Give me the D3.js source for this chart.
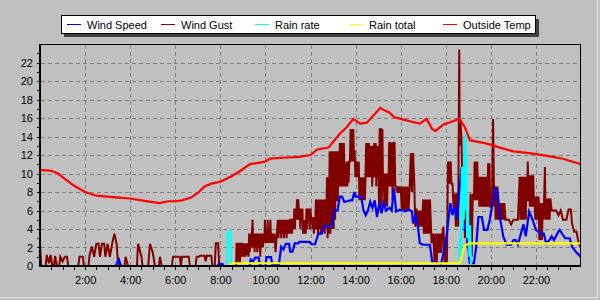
<!DOCTYPE html>
<html>
<head>
<meta charset="utf-8">
<script src="https://cdn.jsdelivr.net/npm/d3@7"></script>
<style>
body { margin: 0; background: #c0c0c0; }
svg text { font-family: "Liberation Sans", Arial, sans-serif; }
</style>
</head>
<body>
<svg id="chart" width="600" height="300"></svg>
<script>
width = 600;
height = 300;

// series names and colours for the legend
seriesNames = ['Wind Speed', 'Wind Gust', 'Rain rate', 'Rain total', 'Outside Temp'];
seriesColors = ['#0000ff', '#800000', '#00ffff', '#ffff00', '#ff0000'];

xTicks = [2, 4, 6, 8, 10, 12, 14, 16, 18, 20, 22];
yTicks = [0, 2, 4, 6, 8, 10, 12, 14, 16, 18, 20, 22];

// [hour, value]
windGust = [[0,2.4],[0.05,0],[0.25,0],[0.3,1.2],[0.4,0.3],[0.47,1.2],[0.55,0],[0.62,0],[0.67,1.1],[0.75,0],
	[0.85,0],[0.9,1.0],[1.0,0.5],[1.1,1.0],[1.2,1.0],[1.25,0],[1.7,0],[1.75,1.0],[1.9,1.0],[1.95,0],
	[2.15,0],[2.2,1.2],[2.3,2.1],[2.4,1.0],[2.5,2.4],[2.6,2.4],[2.66,1.0],[2.75,2.4],[2.85,2.4],[2.9,1.0],
	[3.0,2.4],[3.1,1.0],[3.2,2.4],[3.3,3.5],[3.4,2.4],[3.46,0.3],[3.55,0],[3.75,0],[3.8,1.0],[3.9,0],
	[4.3,0],[4.35,2.4],[4.5,1.0],[4.55,0],[4.8,0],[4.88,2.4],[5.0,1.5],[5.1,0],[5.28,0],[5.32,1.0],
	[5.4,0],[5.85,0],[5.9,1.0],[6.2,1.0],[6.25,0],[6.3,1.0],[6.6,1.0],[6.65,0],[6.9,0],[6.95,1.0],
	[7.05,1.0],[7.1,1.1],[7.3,1.1],[7.35,0.5],[7.4,1.1],[7.6,1.1],[7.65,0],[7.75,0],[7.8,2.45],[7.9,2.45],
	[7.95,0],[8.7,0],[8.72,2.5],[8.75,0.3],[8.78,2.5],[8.81,0.5],[8.84,2.5],[8.87,0.3],[8.9,2.5],[8.93,1.0],
	[8.95,2.5],[9.0,1.0],[9.03,2.45],[9.06,1.0],[9.09,2.45],[9.12,1.0],[9.15,2.45],[9.18,1.2],[9.21,2.45],[9.25,1.0],
	[9.28,3.5],[9.31,1.5],[9.34,3.5],[9.37,2.0],[9.4,3.5],[9.43,5.0],[9.46,2.0],[9.49,3.5],[9.52,1.5],[9.55,3.5],
	[9.58,2.0],[9.61,3.5],[9.64,1.5],[9.67,3.5],[9.7,2.0],[9.73,3.5],[9.77,1.0],[9.8,3.5],[9.83,2.0],[9.86,3.5],
	[9.89,2.0],[9.92,3.5],[9.95,2.5],[9.98,5.0],[10.01,2.5],[10.04,3.5],[10.07,2.5],[10.1,5.0],[10.13,2.5],[10.16,3.5],
	[10.19,2.5],[10.22,5.0],[10.25,2.5],[10.28,3.5],[10.31,2.5],[10.34,3.5],[10.37,2.5],[10.4,3.5],[10.45,1.5],[10.55,5.0],
	[10.58,3.0],[10.61,5.0],[10.64,3.5],[10.67,5.0],[10.7,3.0],[10.73,5.0],[10.76,3.5],[10.79,5.0],[10.82,3.0],[10.85,5.0],
	[10.88,3.5],[10.91,5.0],[10.94,3.0],[10.97,5.0],[11.0,3.5],[11.03,5.0],[11.06,3.5],[11.09,5.1],[11.12,3.5],[11.15,5.1],
	[11.18,3.5],[11.21,5.1],[11.25,4.0],[11.28,6.2],[11.31,4.0],[11.34,6.2],[11.37,5.0],[11.4,7.2],[11.43,5.0],[11.46,7.2],
	[11.49,5.0],[11.52,6.2],[11.55,4.0],[11.58,6.2],[11.61,5.0],[11.64,6.2],[11.67,3.5],[11.7,5.0],[11.73,3.5],[11.76,5.0],
	[11.79,3.5],[11.82,6.2],[11.85,4.0],[11.88,6.2],[11.91,5.0],[11.94,6.2],[11.97,4.0],[12.0,6.2],[12.03,5.0],[12.06,5.3],
	[12.09,4.0],[12.12,5.3],[12.15,3.5],[12.18,5.3],[12.21,4.0],[12.24,7.2],[12.27,4.0],[12.3,7.2],[12.33,3.5],[12.36,7.2],
	[12.39,4.0],[12.42,7.2],[12.45,3.5],[12.48,7.2],[12.51,3.5],[12.54,7.2],[12.57,4.0],[12.6,7.2],[12.63,3.5],[12.66,7.2],
	[12.7,4.0],[12.73,9.6],[12.76,3.0],[12.79,9.6],[12.82,3.5],[12.85,12.4],[12.88,3.5],[12.91,12.4],[12.94,4.0],[12.97,9.6],
	[13.0,12.4],[13.03,4.0],[13.06,12.4],[13.09,5.0],[13.12,12.4],[13.15,7.0],[13.18,12.4],[13.21,7.0],[13.24,12.4],[13.27,8.6],
	[13.3,13.3],[13.33,8.6],[13.36,13.3],[13.39,8.6],[13.42,13.3],[13.45,8.6],[13.48,13.3],[13.51,8.6],[13.54,11.0],[13.57,8.6],
	[13.6,11.3],[13.63,8.6],[13.66,11.3],[13.69,9.0],[13.72,11.3],[13.75,11.3],[13.78,14.8],[13.81,11.3],[13.84,14.8],[13.87,11.3],
	[13.9,14.8],[13.93,11.3],[13.96,12.5],[13.99,9.6],[14.02,11.3],[14.05,9.6],[14.08,11.3],[14.11,9.6],[14.14,11.3],[14.17,7.1],
	[14.2,9.6],[14.23,7.1],[14.26,9.6],[14.29,7.1],[14.32,9.6],[14.35,7.1],[14.38,9.6],[14.41,7.1],[14.44,9.6],[14.47,13.3],
	[14.5,9.6],[14.53,13.3],[14.56,9.6],[14.59,13.3],[14.62,9.6],[14.65,13.0],[14.68,9.6],[14.71,13.0],[14.74,8.6],[14.77,13.0],
	[14.8,9.6],[14.83,13.3],[14.86,9.6],[14.89,13.3],[14.92,8.6],[14.95,13.0],[14.98,9.6],[15.01,13.0],[15.04,6.4],[15.07,14.9],
	[15.1,6.4],[15.13,14.9],[15.16,6.4],[15.19,14.8],[15.22,8.0],[15.25,10.0],[15.28,6.4],[15.31,10.0],[15.34,6.4],[15.37,10.0],
	[15.4,6.4],[15.43,10.0],[15.46,8.6],[15.49,13.4],[15.52,8.6],[15.55,13.4],[15.58,8.6],[15.61,13.3],[15.64,7.1],[15.67,13.4],
	[15.7,8.6],[15.73,13.4],[15.76,8.6],[15.8,8.6],[15.85,7.9],[15.9,8.6],[15.95,7.9],[16.0,8.6],[16.05,6.0],[16.1,8.6],
	[16.15,6.0],[16.2,8.6],[16.25,6.0],[16.3,8.6],[16.35,6.0],[16.4,8.6],[16.45,12.2],[16.5,8.0],[16.55,12.2],[16.6,9.3],
	[16.65,4.25],[16.7,6.2],[16.75,4.25],[16.8,6.0],[16.85,4.25],[16.9,6.0],[16.95,4.25],[17.0,7.2],[17.03,3.5],[17.06,7.2],
	[17.09,3.5],[17.12,7.2],[17.15,3.5],[17.18,7.2],[17.21,3.5],[17.24,7.2],[17.27,3.5],[17.3,7.2],[17.37,2.45],[17.45,3.5],
	[17.5,0.3],[17.55,3.5],[17.6,0.3],[17.65,3.5],[17.7,1.4],[17.75,3.5],[17.8,1.4],[17.85,3.5],[17.9,4.25],[17.95,0.3],
	[18.0,2.45],[18.05,0.3],[18.1,11.3],[18.13,8.9],[18.16,11.3],[18.19,8.9],[18.22,11.3],[18.25,8.9],[18.3,8.9],[18.35,6.0],
	[18.4,7.85],[18.45,4.25],[18.5,7.85],[18.55,4.25],[18.58,15.8],[18.6,23.4],[18.62,13.0],[18.65,15.8],[18.7,13.6],[18.75,6.0],
	[18.8,10.0],[18.85,3.0],[18.9,8.0],[18.95,2.0],[19.0,5.0],[19.05,0.5],[19.1,7.8],[19.15,1.0],[19.2,7.8],[19.25,7.1],
	[19.28,11.3],[19.31,7.1],[19.34,11.3],[19.37,7.1],[19.4,11.3],[19.43,7.1],[19.46,9.65],[19.49,6.4],[19.52,9.65],[19.55,6.4],
	[19.58,9.65],[19.61,6.4],[19.64,9.65],[19.67,6.4],[19.7,9.65],[19.73,6.4],[19.76,9.65],[19.79,6.4],[19.82,9.65],[19.85,6.4],
	[19.88,11.1],[19.91,6.4],[19.94,11.1],[19.97,6.4],[20.05,6.4],[20.1,15.9],[20.15,6.4],[20.18,8.6],[20.21,5.0],[20.24,8.6],
	[20.27,5.0],[20.3,8.6],[20.33,5.0],[20.36,6.8],[20.39,5.0],[20.42,6.8],[20.45,5.0],[20.48,6.8],[20.51,5.0],[20.54,6.8],
	[20.57,5.0],[20.6,6.8],[20.65,5.0],[20.8,5.0],[20.9,4.5],[21.0,5.0],[21.2,5.0],[21.28,9.65],[21.31,5.0],[21.34,9.65],
	[21.37,5.0],[21.4,9.65],[21.43,5.0],[21.46,9.65],[21.49,5.0],[21.52,9.65],[21.55,5.0],[21.58,9.65],[21.61,7.0],[21.64,11.3],
	[21.67,7.0],[21.7,9.8],[21.73,6.4],[21.76,9.8],[21.79,6.4],[21.82,9.8],[21.85,6.4],[21.88,9.8],[21.91,6.4],[21.94,7.5],
	[21.97,5.0],[22.0,7.5],[22.03,5.0],[22.06,7.5],[22.09,5.0],[22.12,7.5],[22.15,2.8],[22.18,6.8],[22.21,2.8],[22.24,6.8],
	[22.27,2.8],[22.3,6.8],[22.33,5.0],[22.36,6.8],[22.4,10.7],[22.43,5.0],[22.46,7.3],[22.49,5.0],[22.52,7.3],[22.55,5.0],
	[22.58,7.3],[22.61,5.0],[22.64,7.3],[22.7,6.0],[22.9,6.0],[23.0,5.5],[23.1,6.0],[23.2,5.0],[23.35,5.0],[23.45,6.1],
	[23.55,6.1],[23.6,4.6],[23.7,3.7],[23.8,3.7],[23.9,2.45],[23.98,2.0]];

windSpeed = [[0,0.2],[0.1,0],[3.35,0],[3.45,0.5],[3.5,0.7],[3.55,0.3],[3.6,0],[7.85,0],[7.95,0.2],[8.1,0.2],
	[8.15,0],[9.3,0],[9.35,0.7],[9.45,0.5],[9.55,0.9],[9.7,0.9],[9.75,0.2],[9.85,0],[10.0,0],[10.05,0.95],
	[10.25,0.95],[10.3,0.2],[10.6,0.2],[10.7,2.1],[10.8,1.8],[10.9,2.4],[11.05,2.4],[11.1,1.55],[11.2,1.55],[11.3,2.45],
	[11.45,2.45],[11.5,2.6],[11.95,2.6],[12.05,2.35],[12.2,2.35],[12.35,3.5],[12.5,3.5],[12.6,4.25],[12.85,4.25],[12.95,4.4],
	[13.05,6.0],[13.2,6.0],[13.3,7.5],[13.4,7.5],[13.5,6.95],[13.65,7.0],[13.75,7.1],[13.85,7.1],[13.95,8.0],[14.0,7.5],
	[14.25,7.5],[14.35,6.0],[14.45,5.5],[14.55,6.0],[14.65,6.95],[14.75,6.3],[14.85,7.1],[14.95,5.3],[15.05,6.8],[15.15,5.7],
	[15.25,6.8],[15.35,6.0],[15.5,6.3],[15.6,6.0],[15.7,8.4],[15.8,5.9],[15.95,6.1],[16.2,5.9],[16.35,6.1],[16.5,5.9],
	[16.55,4.6],[16.65,5.5],[16.75,4.6],[16.85,2.45],[17.0,2.3],[17.3,2.3],[17.4,0.4],[17.8,0.3],[17.9,1.4],[18.05,3.5],
	[18.2,6.8],[18.3,5.5],[18.4,6.4],[18.5,5.0],[18.6,8.0],[18.7,10.7],[18.75,6.0],[18.8,3.9],[18.9,4.5],[19.0,2.0],
	[19.07,0.3],[19.25,0.3],[19.35,2.1],[19.45,5.3],[19.6,5.3],[19.7,3.9],[19.85,3.9],[19.95,5.0],[20.05,6.4],[20.2,8.4],
	[20.3,8.0],[20.4,5.3],[20.55,3.2],[20.7,2.3],[20.9,2.3],[21.0,2.8],[21.1,2.8],[21.2,2.3],[21.3,3.2],[21.45,4.5],
	[21.55,3.2],[21.7,5.9],[21.85,5.0],[22.0,3.9],[22.2,3.5],[22.35,3.5],[22.45,2.45],[22.6,2.8],[22.7,3.2],[22.8,2.8],
	[22.95,3.5],[23.05,3.9],[23.3,3.0],[23.5,3.0],[23.6,2.1],[23.75,1.6],[23.98,1.0]];

rainRate = [[0,0],[8.3,0],[8.33,3.6],[8.45,3.8],[8.48,0],[18.6,0],[18.63,3.0],[18.67,1.0],[18.72,10.7],[18.75,4.0],
	[18.78,10.7],[18.8,5.0],[18.83,13.6],[18.86,6.0],[18.88,14.3],[18.9,8.0],[18.92,12.0],[18.95,3.0],[18.98,6.0],[19.0,4.4],
	[19.05,1.0],[19.08,4.4],[19.12,0],[24,0]];

rainTotal = [[0,0],[8.45,0],[8.5,0.3],[18.6,0.3],[18.65,0.5],[18.7,1.0],[18.8,1.9],[18.9,2.27],[19.05,2.45],[24,2.45]];

outsideTemp = [[0,10.4],[0.5,10.3],[0.8,10.0],[1.0,9.6],[1.5,8.7],[2.0,8.0],[2.5,7.6],[3.0,7.5],[3.5,7.4],[4.0,7.3],
	[4.5,7.1],[5.0,6.9],[5.3,6.8],[5.7,7.0],[6.0,7.0],[6.3,7.1],[6.7,7.4],[7.0,7.9],[7.3,8.6],[7.6,8.9],
	[8.0,9.1],[8.5,9.7],[8.9,10.3],[9.3,11.0],[9.8,11.2],[10.0,11.3],[10.2,11.6],[10.8,11.7],[11.5,11.8],[12.0,12.0],
	[12.3,12.6],[12.8,12.8],[13.0,13.4],[13.3,14.3],[13.6,15.0],[13.9,15.9],[14.2,15.4],[14.5,15.5],[14.8,16.3],[15.1,17.1],
	[15.3,16.8],[15.5,16.6],[15.7,16.1],[16.0,15.9],[16.5,15.6],[16.85,15.4],[17.15,15.9],[17.4,14.8],[17.55,14.6],[17.9,15.3],
	[18.25,15.6],[18.6,15.9],[18.85,15.0],[19.07,13.6],[19.5,13.4],[19.95,13.15],[20.4,12.8],[21.0,12.4],[21.7,12.2],[22.5,11.9],
	[23.2,11.6],[23.6,11.3],[24.0,11.0]];

const svg = d3.select('#chart');

const x = d3.scaleLinear().domain([0, 24]).range([40, 581]);
const y = d3.scaleLinear().domain([0, 24]).range([266, 44]);

svg.append('rect').attr('width', width).attr('height', height).attr('fill', '#c0c0c0');
// window edge
svg.append('line').attr('x1', 597.5).attr('x2', 597.5).attr('y1', 0).attr('y2', 297.5)
	.attr('stroke', '#e4e4e4');
svg.append('line').attr('x1', 0).attr('x2', 597.5).attr('y1', 297.5).attr('y2', 297.5)
	.attr('stroke', '#e4e4e4');

svg.append('defs').append('clipPath').attr('id', 'plot')
	.append('rect').attr('x', 40).attr('y', 44).attr('width', 541).attr('height', 222);

// grid
const grid = svg.append('g');
grid.selectAll('.hg').data(yTicks.filter(d => d > 0)).enter().append('line')
	.attr('x1', 41).attr('x2', 580)
	.attr('y1', d => Math.round(y(d)) + 0.5).attr('y2', d => Math.round(y(d)) + 0.5)
	.attr('stroke', '#808080').attr('stroke-dasharray', '4,3');
grid.selectAll('.vg').data(xTicks).enter().append('line')
	.attr('x1', d => Math.round(x(d)) + 0.5).attr('x2', d => Math.round(x(d)) + 0.5)
	.attr('y1', 45).attr('y2', 265)
	.attr('stroke', '#808080').attr('stroke-dasharray', '4,3');

// series, gust first so the speed line sits on top of it
const line = d3.line().x(d => x(d[0])).y(d => y(d[1]));
const lines = svg.append('g').attr('clip-path', 'url(#plot)');
[[windGust, 1], [windSpeed, 0], [rainRate, 2], [rainTotal, 3], [outsideTemp, 4]].forEach(s => {
	lines.append('path')
		.attr('d', line(s[0]))
		.attr('fill', 'none')
		.attr('stroke', seriesColors[s[1]])
		.attr('stroke-width', s[1] == 1 ? 2 : 2.2)
		.attr('stroke-linejoin', 'miter');
});

// frame
svg.append('rect').attr('x', 40.5).attr('y', 44.5).attr('width', 540).attr('height', 221)
	.attr('fill', 'none').attr('stroke', '#000');
svg.append('line').attr('x1', 40).attr('x2', 40).attr('y1', 44).attr('y2', 267)
	.attr('stroke', '#000').attr('stroke-width', 2);
svg.append('line').attr('x1', 39).attr('x2', 581).attr('y1', 266).attr('y2', 266)
	.attr('stroke', '#000').attr('stroke-width', 2);

// minor ticks
svg.append('g').selectAll('line').data(d3.range(0.5, 24, 0.5)).enter().append('line')
	.attr('x1', d => Math.round(x(d)) + 0.5).attr('x2', d => Math.round(x(d)) + 0.5)
	.attr('y1', 267).attr('y2', 270).attr('stroke', '#000');
svg.append('g').selectAll('line').data(d3.range(1, 24, 1)).enter().append('line')
	.attr('x1', 37).attr('x2', 39)
	.attr('y1', d => Math.round(y(d)) + 0.5).attr('y2', d => Math.round(y(d)) + 0.5)
	.attr('stroke', '#000');

// axis labels
const yAxis = svg.append('g').attr('transform', 'translate(40,0)')
	.call(d3.axisLeft(y).tickValues(yTicks).tickSize(0).tickPadding(7));
const xAxis = svg.append('g').attr('transform', 'translate(0,266)')
	.call(d3.axisBottom(x).tickValues(xTicks).tickFormat(d => d + ':00').tickSize(0).tickPadding(10));
[yAxis, xAxis].forEach(a => {
	a.select('.domain').remove();
	a.selectAll('text').attr('font-size', 11).attr('fill', '#000')
		.attr('font-family', '"Liberation Sans", Arial, sans-serif');
});

// legend
const lg = svg.append('g');
lg.append('rect').attr('x', 64).attr('y', 19).attr('width', 475).attr('height', 18).attr('fill', '#404040');
lg.append('rect').attr('x', 61.5).attr('y', 15.5).attr('width', 474).attr('height', 18)
	.attr('fill', '#fff').attr('stroke', '#000');
const item = lg.selectAll('.item').data(seriesNames).enter().append('g')
	.attr('transform', (d, i) => `translate(${67 + i * 94},0)`);
item.append('line').attr('x1', 0).attr('x2', 14).attr('y1', 24.5).attr('y2', 24.5)
	.attr('stroke', (d, i) => seriesColors[i]);
item.append('text').attr('x', 20).attr('y', 28.5).attr('font-size', 11)
	.text(d => d);
</script>
</body>
</html>
